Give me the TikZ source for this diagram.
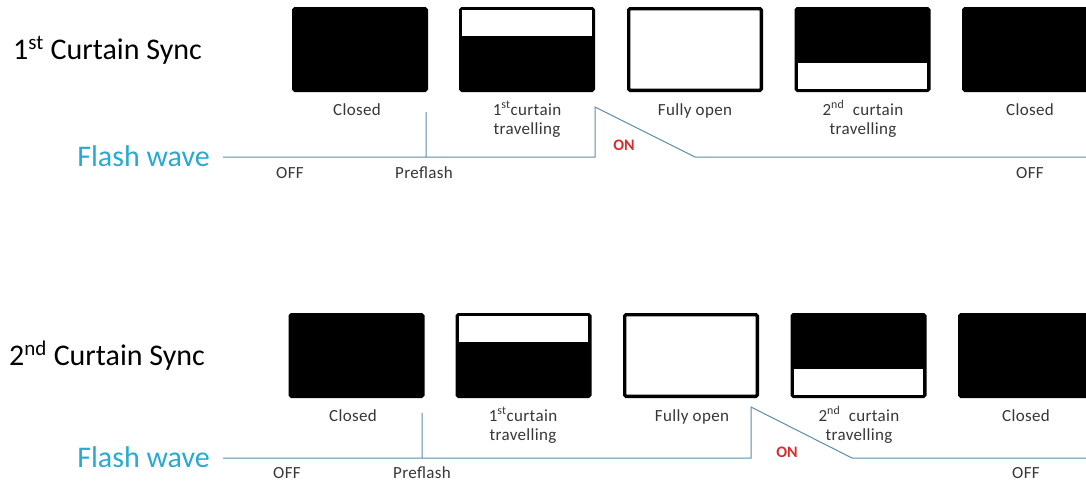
\documentclass[tikz,border=0pt]{standalone}
\usepackage{fontspec}
\setmainfont{Carlito}
\definecolor{wavec}{RGB}{95,140,170}
\definecolor{flashc}{RGB}{40,170,210}
\definecolor{lblc}{RGB}{55,55,55}
\definecolor{onred}{RGB}{215,45,45}
\begin{document}
\begin{tikzpicture}[x=1pt,y=-1pt,
  shutter/.style={draw=black, line width=3.3pt, rounded corners=1.5pt, minimum width=132.7pt, minimum height=81.7pt, inner sep=0pt, outer sep=0pt},
  closedbox/.style={shutter, fill=black},
  openbox/.style={shutter, fill=white},
  title/.style={inner sep=0pt, font=\fontsize{30}{36}\selectfont, text=black},
  flashlbl/.style={inner sep=0pt, font=\fontsize{30}{36}\selectfont, text=flashc},
  lbl/.style={inner sep=0pt, font=\fontsize{17}{20}\selectfont\addfontfeatures{LetterSpace=2}, text=lblc, anchor=base},
  onlbl/.style={inner sep=0pt, font=\fontsize{16}{18}\selectfont\bfseries, text=onred, anchor=base},
  wave/.style={draw=wavec, line width=1pt}]
\useasboundingbox (0,0) rectangle (1086,483);
\clip (0,0) rectangle (1086,483);
\fill[white] (0,0) rectangle (1086,483);

% ---------- top: 1st curtain sync ----------
\node[title, anchor=base west] (t1) at (13,59) {1\textsuperscript{st} Curtain Sync};
\node[flashlbl, anchor=base east] (f1) at (210,166) {Flash wave};

\node[closedbox] (a1) at (360,49.5) {};
\node[closedbox] (a2) at (527,49.5) {};
\node[openbox]   (a3) at (695,49.5) {};
\node[closedbox] (a4) at (862.5,49.5) {};
\node[closedbox] (a5) at (1030,49.5) {};
\fill[white] ([xshift=1.65pt,yshift=-1.65pt]a2.north west) rectangle ([xshift=-1.65pt,yshift=-27.35pt]a2.north east);
\fill[white] ([xshift=1.65pt,yshift=-54.35pt]a4.north west) rectangle ([xshift=-1.65pt,yshift=1.65pt]a4.south east);

\node[lbl] (la1) at (357,115) {Closed};
\node[lbl] (la2) at (527,115) {1\textsuperscript{st}curtain};
\node[lbl] (la2b) at (527,134) {travelling};
\node[lbl] (la3) at (695,115) {Fully open};
\node[lbl] (la4) at (863,115) {2\textsuperscript{nd}\ \ curtain};
\node[lbl] (la4b) at (863,134) {travelling};
\node[lbl] (la5) at (1030,115) {Closed};

\node[lbl] (oa1) at (290,178) {OFF};
\node[lbl] (pa) at (424,178) {Preflash};
\node[onlbl] (ona) at (624,150) {ON};
\node[lbl] (oa2) at (1030,178) {OFF};

\coordinate (w1s) at (223,157);
\coordinate (w1p) at (426,157);
\coordinate (w1pt) at (426,112);
\coordinate (w1r) at (595,157);
\coordinate (w1rt) at (595,107);
\coordinate (w1d) at (695,157);
\coordinate (w1e) at (1090,157);
\draw[wave] (w1s) -- (w1p) -- (w1pt) -- (w1p) -- (w1r) -- (w1rt) -- (w1d) -- (w1e);

% ---------- bottom: 2nd curtain sync ----------
\node[title, anchor=base west] (t2) at (9,365) {2\textsuperscript{nd} Curtain Sync};
\node[flashlbl, anchor=base east] (f2) at (210,467) {Flash wave};

\node[closedbox] (b1) at (356.5,355.5) {};
\node[closedbox] (b2) at (523.5,355.5) {};
\node[openbox]   (b3) at (691,355.5) {};
\node[closedbox] (b4) at (858.5,355.5) {};
\node[closedbox] (b5) at (1026,355.5) {};
\fill[white] ([xshift=1.65pt,yshift=-1.65pt]b2.north west) rectangle ([xshift=-1.65pt,yshift=-27.35pt]b2.north east);
\fill[white] ([xshift=1.65pt,yshift=-54.35pt]b4.north west) rectangle ([xshift=-1.65pt,yshift=1.65pt]b4.south east);

\node[lbl] (lb1) at (353,421) {Closed};
\node[lbl] (lb2) at (523,421) {1\textsuperscript{st}curtain};
\node[lbl] (lb2b) at (523,440) {travelling};
\node[lbl] (lb3) at (692,421) {Fully open};
\node[lbl] (lb4) at (859,421) {2\textsuperscript{nd}\ \ curtain};
\node[lbl] (lb4b) at (859,440) {travelling};
\node[lbl] (lb5) at (1026,421) {Closed};

\node[lbl] (ob1) at (287,478) {OFF};
\node[lbl] (pb) at (422,478) {Preflash};
\node[onlbl] (onb) at (787,457) {ON};
\node[lbl] (ob2) at (1026,478) {OFF};

\coordinate (w2s) at (223,458);
\coordinate (w2p) at (422,458);
\coordinate (w2pt) at (422,413);
\coordinate (w2r) at (751,458);
\coordinate (w2rt) at (751,407);
\coordinate (w2d) at (852,458);
\coordinate (w2e) at (1090,458);
\draw[wave] (w2s) -- (w2p) -- (w2pt) -- (w2p) -- (w2r) -- (w2rt) -- (w2d) -- (w2e);
\end{tikzpicture}
\end{document}
